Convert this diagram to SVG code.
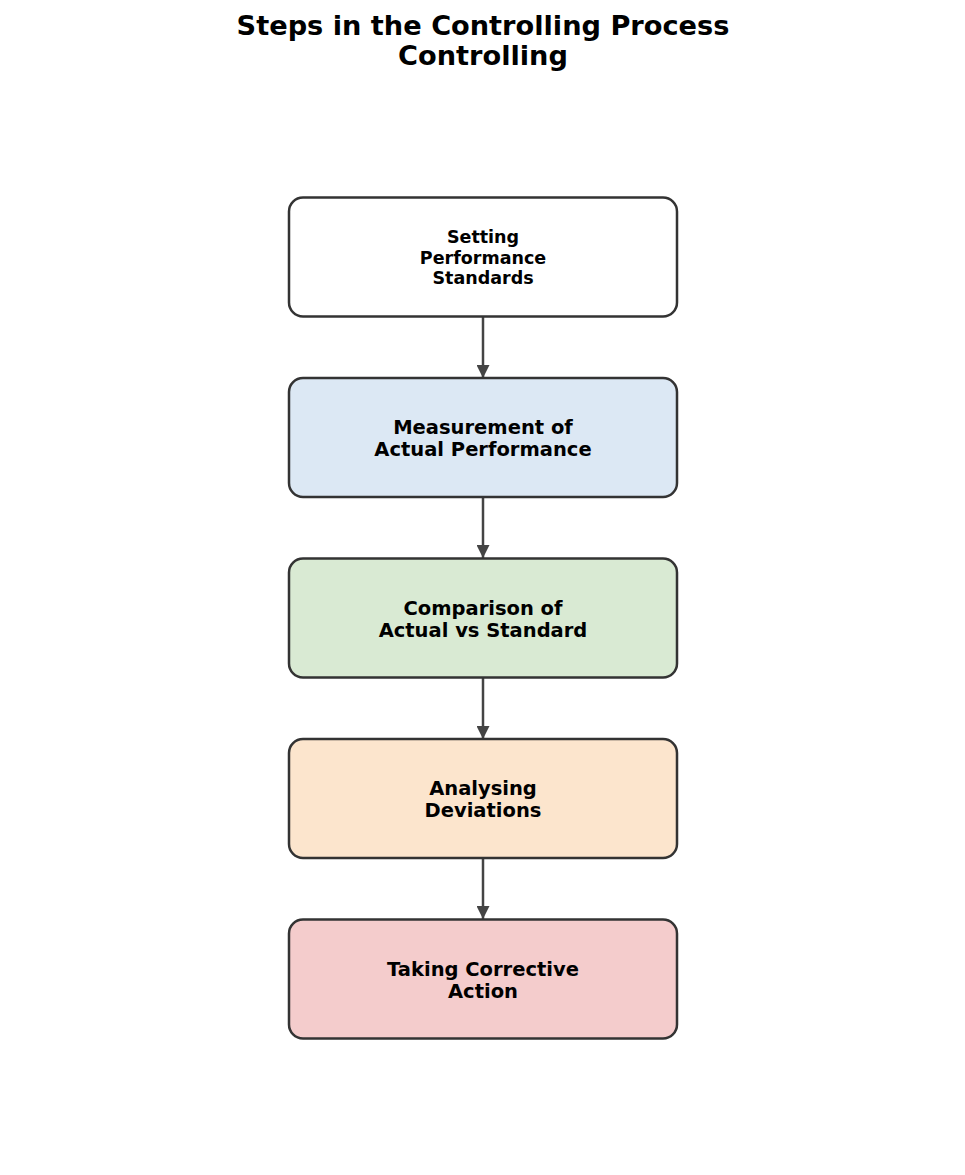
<svg xmlns="http://www.w3.org/2000/svg" width="965" height="1175" viewBox="0 0 965 1175">
<style>
.title{font-family:"DejaVu Sans",sans-serif;font-weight:bold;font-size:27.2px;fill:#000;text-anchor:middle}
.box{stroke:#333;stroke-width:2.5}
.lbl{font-family:"DejaVu Sans",sans-serif;font-weight:bold;font-size:19.5px;fill:#000;text-anchor:middle}
.lbl1{font-family:"DejaVu Sans",sans-serif;font-weight:bold;font-size:17.5px;fill:#000;text-anchor:middle}
.conn{stroke:#444;stroke-width:2.5;fill:none}
</style>
<defs>
<marker id="ah" viewBox="0 0 10 10" refX="10" refY="5" markerWidth="5.6" markerHeight="5.2" markerUnits="strokeWidth" orient="auto">
<path d="M0,0 L10,5 L0,10 Z" fill="#444"/>
</marker>
</defs>
<rect width="965" height="1175" fill="#fff"/>
<text class="title" x="483" y="35">Steps in the Controlling Process</text>
<text class="title" x="483" y="65">Controlling</text>
<g id="connectors">
<line class="conn" x1="483" y1="317" x2="483" y2="378" marker-end="url(#ah)"/>
<line class="conn" x1="483" y1="497" x2="483" y2="558" marker-end="url(#ah)"/>
<line class="conn" x1="483" y1="678" x2="483" y2="739" marker-end="url(#ah)"/>
<line class="conn" x1="483" y1="858" x2="483" y2="919" marker-end="url(#ah)"/>
</g>
<g id="n1">
<rect class="box" x="289" y="197.5" width="388" height="119" rx="14" fill="#ffffff"/>
<text class="lbl1" x="483" y="243">Setting</text>
<text class="lbl1" x="483" y="263.5">Performance</text>
<text class="lbl1" x="483" y="284">Standards</text>
</g>
<g id="n2">
<rect class="box" x="289" y="378" width="388" height="119" rx="14" fill="#dce8f4"/>
<text class="lbl" x="483" y="434">Measurement of</text>
<text class="lbl" x="483" y="456">Actual Performance</text>
</g>
<g id="n3">
<rect class="box" x="289" y="558.5" width="388" height="119" rx="14" fill="#d9ead3"/>
<text class="lbl" x="483" y="614.5">Comparison of</text>
<text class="lbl" x="483" y="636.5">Actual vs Standard</text>
</g>
<g id="n4">
<rect class="box" x="289" y="739" width="388" height="119" rx="14" fill="#fce5cd"/>
<text class="lbl" x="483" y="795">Analysing</text>
<text class="lbl" x="483" y="817">Deviations</text>
</g>
<g id="n5">
<rect class="box" x="289" y="919.5" width="388" height="119" rx="14" fill="#f4cccc"/>
<text class="lbl" x="483" y="975.5">Taking Corrective</text>
<text class="lbl" x="483" y="997.5">Action</text>
</g>
</svg>
